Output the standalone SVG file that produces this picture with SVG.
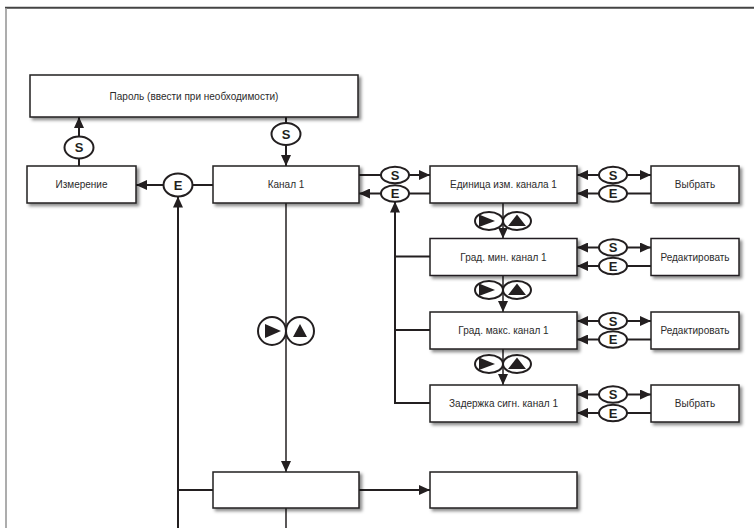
<svg xmlns="http://www.w3.org/2000/svg" width="754" height="528" viewBox="0 0 754 528">
<defs>
<filter id="sh" x="-10%" y="-20%" width="125%" height="160%">
<feDropShadow dx="2.5" dy="2.5" stdDeviation="1.6" flood-color="#000" flood-opacity="0.45"/>
</filter>
<marker id="ah" markerUnits="userSpaceOnUse" markerWidth="11" markerHeight="10" refX="11" refY="5" orient="auto">
<path d="M0,0 L11,5 L0,10 z" fill="#231f20"/>
</marker>
<g id="pair">
<ellipse cx="-14" cy="0" rx="14" ry="9" class="key"/>
<ellipse cx="14" cy="0" rx="14" ry="9" class="key"/>
<polygon points="-24,-6.5 -24,6 -8,0" fill="#231f20"/>
<polygon points="5,5 23,5 14,-6.5" fill="#231f20"/>
</g>
</defs>
<style>
.box{fill:#fff;stroke:#231f20;stroke-width:1.5;filter:url(#sh)}
.lbl{font-family:"Liberation Sans",Arial,sans-serif;font-size:10px;fill:#2b2b2b;text-anchor:middle}
.key{fill:#fff;stroke:#231f20;stroke-width:2}
.kt{font-family:"Liberation Sans",Arial,sans-serif;font-weight:bold;font-size:13px;fill:#231f20;text-anchor:middle}
.ln{fill:none;stroke:#231f20;stroke-width:2}
.thin{fill:none;stroke:#231f20;stroke-width:1.5}
.arr{marker-end:url(#ah)}
</style>
<rect width="754" height="528" fill="#fff"/>
<g id="frame">
<line x1="5" y1="7.8" x2="754" y2="7.8" stroke="#444" stroke-width="2"/>
<line x1="6" y1="8" x2="6" y2="528" stroke="#999" stroke-width="1.6"/>
</g>

<g id="connectors">
<!-- Izmerenie -> Parol via S -->
<path class="ln" d="M79,166 V158.5"/>
<path class="ln arr" d="M79,136.5 V117"/>
<!-- Parol -> Kanal via S -->
<path class="ln" d="M286,117 V123"/>
<path class="ln arr" d="M286,145 V166"/>
<!-- Kanal -> Izmerenie via E -->
<path class="ln" d="M213,185 H192.5"/>
<path class="ln arr" d="M163.5,185 H136"/>
<!-- left return line -->
<path class="ln arr" d="M178,528 V196.5"/>
<path class="ln" d="M178,490 H213"/>
<!-- main vertical -->
<path class="thin arr" d="M286,203 V472"/>
<path class="thin" d="M286,508 V528"/>
<path class="ln arr" d="M359,490 H430"/>
<!-- Kanal <-> Edinica -->
<path class="ln" d="M359,175 H381"/>
<path class="ln arr" d="M409,175 H430"/>
<path class="ln" d="M430,193.5 H409"/>
<path class="ln arr" d="M381,193.5 H359"/>
<!-- right return line -->
<path class="ln arr" d="M430,403 H395 V201.5"/>
<path class="ln" d="M395,256.5 H430"/>
<path class="ln" d="M395,330 H430"/>
<!-- sub-menu chain -->
<path class="thin arr" d="M503,203 V238.5"/>
<path class="thin arr" d="M503,276 V312"/>
<path class="thin arr" d="M503,349 V385"/>
<!-- right S/E rows -->
<path class="ln arr" d="M599,175 H577"/>
<path class="ln arr" d="M627,175 H651"/>
<path class="ln arr" d="M599,193.5 H577"/>
<path class="ln" d="M627,193.5 H651"/>
<path class="ln arr" d="M599,247.5 H577"/>
<path class="ln arr" d="M627,247.5 H651"/>
<path class="ln arr" d="M599,266 H577"/>
<path class="ln" d="M627,266 H651"/>
<path class="ln arr" d="M599,321 H577"/>
<path class="ln arr" d="M627,321 H651"/>
<path class="ln arr" d="M599,339.5 H577"/>
<path class="ln" d="M627,339.5 H651"/>
<path class="ln arr" d="M599,394.5 H577"/>
<path class="ln arr" d="M627,394.5 H651"/>
<path class="ln arr" d="M599,413 H577"/>
<path class="ln" d="M627,413 H651"/>

<!-- key labels -->
<g id="keys">
<ellipse class="key" cx="79" cy="147.5" rx="14.5" ry="11"/><text class="kt" x="79" y="152.3">S</text>
<ellipse class="key" cx="286" cy="134" rx="14.5" ry="11"/><text class="kt" x="286" y="138.8">S</text>
<ellipse class="key" cx="178" cy="185" rx="14.5" ry="11.5"/><text class="kt" x="178" y="189.8">E</text>

<ellipse class="key" cx="395" cy="175" rx="14" ry="8.3"/><text class="kt" x="395" y="179.7">S</text>
<ellipse class="key" cx="395" cy="193.5" rx="14" ry="8.3"/><text class="kt" x="395" y="198.2">E</text>

<ellipse class="key" cx="613" cy="175" rx="14" ry="8.3"/><text class="kt" x="613" y="179.7">S</text>
<ellipse class="key" cx="613" cy="193.5" rx="14" ry="8.3"/><text class="kt" x="613" y="198.2">E</text>
<ellipse class="key" cx="613" cy="247.5" rx="14" ry="8.3"/><text class="kt" x="613" y="252.2">S</text>
<ellipse class="key" cx="613" cy="266" rx="14" ry="8.3"/><text class="kt" x="613" y="270.7">E</text>
<ellipse class="key" cx="613" cy="321" rx="14" ry="8.3"/><text class="kt" x="613" y="325.7">S</text>
<ellipse class="key" cx="613" cy="339.5" rx="14" ry="8.3"/><text class="kt" x="613" y="344.2">E</text>
<ellipse class="key" cx="613" cy="394.5" rx="14" ry="8.3"/><text class="kt" x="613" y="399.2">S</text>
<ellipse class="key" cx="613" cy="413" rx="14" ry="8.3"/><text class="kt" x="613" y="417.7">E</text>

<use href="#pair" x="503" y="221"/>
<use href="#pair" x="503" y="290"/>
<use href="#pair" x="503" y="364"/>

<g id="bigpair">
<circle class="key" cx="272" cy="331" r="14"/>
<circle class="key" cx="300" cy="331" r="14"/>
<polygon points="265,324 265,338 281,331" fill="#231f20"/>
<polygon points="293,337 307,337 300,324" fill="#231f20"/>
</g>
</g>
</g>

<g id="node-parol"><rect class="box" x="30" y="75" width="328" height="42"/><text class="lbl" x="194" y="99.5">Пароль (ввести при необходимости)</text></g>
<g id="node-izmerenie"><rect class="box" x="27" y="166" width="109" height="37"/><text class="lbl" x="81.5" y="188">Измерение</text></g>
<g id="node-kanal1"><rect class="box" x="213" y="166" width="146" height="37"/><text class="lbl" x="286" y="188">Канал 1</text></g>
<g id="node-edinica"><rect class="box" x="430" y="166" width="147" height="37"/><text class="lbl" x="503.5" y="188">Единица изм. канала 1</text></g>
<g id="node-vybrat1"><rect class="box" x="651" y="166" width="88" height="37"/><text class="lbl" x="695" y="188">Выбрать</text></g>
<g id="node-gradmin"><rect class="box" x="430" y="238.5" width="147" height="37"/><text class="lbl" x="503.5" y="260.5">Град. мин. канал 1</text></g>
<g id="node-red1"><rect class="box" x="651" y="238.5" width="88" height="37"/><text class="lbl" x="695" y="260.5">Редактировать</text></g>
<g id="node-gradmax"><rect class="box" x="430" y="312" width="147" height="37"/><text class="lbl" x="503.5" y="334">Град. макс. канал 1</text></g>
<g id="node-red2"><rect class="box" x="651" y="312" width="88" height="37"/><text class="lbl" x="695" y="334">Редактировать</text></g>
<g id="node-zaderzhka"><rect class="box" x="430" y="385" width="147" height="37"/><text class="lbl" x="503.5" y="407">Задержка сигн. канал 1</text></g>
<g id="node-vybrat2"><rect class="box" x="651" y="385" width="88" height="37"/><text class="lbl" x="695" y="407">Выбрать</text></g>
<g id="node-bottom1"><rect class="box" x="213" y="472" width="146" height="36"/></g>
<g id="node-bottom2"><rect class="box" x="430" y="472" width="147" height="36"/></g>
</svg>
